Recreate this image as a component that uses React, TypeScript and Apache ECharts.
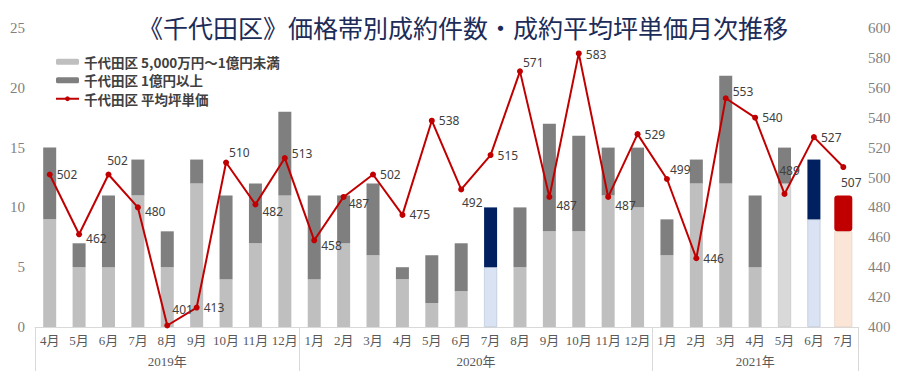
import React, { useEffect, useRef } from 'react';
import * as echarts from 'echarts';

// ---- data ----
const years = ['2019年', '2020年', '2021年'];
const monthsPerYear = [9, 12, 7];
const months = [
  '4月', '5月', '6月', '7月', '8月', '9月', '10月', '11月', '12月',
  '1月', '2月', '3月', '4月', '5月', '6月', '7月', '8月', '9月', '10月', '11月', '12月',
  '1月', '2月', '3月', '4月', '5月', '6月', '7月',
];
const countUnder1Oku = [9, 5, 5, 11, 5, 12, 4, 7, 11, 4, 7, 6, 4, 2, 3, 5, 5, 8, 8, 11, 10, 6, 12, 12, 5, 12, 9, 8];
const countOver1Oku = [6, 2, 6, 3, 3, 2, 7, 5, 7, 7, 4, 6, 1, 4, 4, 5, 5, 9, 8, 4, 5, 3, 2, 9, 6, 3, 5, 3];
const avgTsuboPrice = [502, 462, 502, 480, 401, 413, 510, 482, 513, 458, 487, 502, 475, 538, 492, 515, 571, 487, 583, 487, 529, 499, 446, 553, 540, 489, 527, 507];

const nameUnder = '千代田区 5,000万円～1億円未満';
const nameOver = '千代田区 1億円以上';
const nameAvg = '千代田区 平均坪単価';
const titleText = '《千代田区》価格帯別成約件数・成約平均坪単価月次推移';

// ---- styles ----
const serif = '"Liberation Serif", "Noto Sans CJK JP", serif';
const cjk = '"Noto Sans CJK JP", sans-serif';
const numFont = '"Noto Sans", sans-serif';
const navyIdx = [15, 26];
const paleIdx = [25];
const lastIdx = months.length - 1;
const labelTweaks: Record<number, { position?: string; offset?: number[] }> = {
  1: { offset: [0, 4] },
  2: { position: 'top', offset: [9, -1] },
  3: { offset: [0, 4] },
  4: { offset: [-2, -16] },
  6: { offset: [-4, -10] },
  7: { offset: [0, 7] },
  8: { offset: [0, -5] },
  9: { offset: [0, 5] },
  10: { offset: [-2, 7] },
  14: { position: 'bottom', offset: [11, 0] },
  16: { offset: [-4, -9] },
  17: { offset: [0, 9] },
  18: { offset: [0, 1] },
  19: { offset: [0, 9] },
  21: { offset: [-4, -9] },
  23: { offset: [0, -7] },
  25: { position: 'top', offset: [5, -10] },
  27: { position: 'bottom', offset: [8, 2] },
};

export default function App() {
  const ref = useRef<HTMLDivElement>(null);
  useEffect(() => {
    document.body.style.margin = '0';
    if (!ref.current) return;
    const chart = echarts.init(ref.current, null, { renderer: 'svg' });

    const bounds = [0];
    monthsPerYear.forEach((n) => bounds.push(bounds[bounds.length - 1] + n));
    const centers = years.map((_, i) => (bounds[i] + bounds[i + 1]) / 2);

    const lowerData = countUnder1Oku.map((v, i) => {
      if (i === lastIdx) return null;
      if (navyIdx.includes(i)) return { value: v, itemStyle: { color: '#dae3f3', borderColor: '#b4c0d0', borderWidth: 0.6 } };
      if (paleIdx.includes(i)) return { value: v, itemStyle: { color: '#d9d9d9', borderColor: '#bfbfbf', borderWidth: 0.6 } };
      return v;
    });
    const upperData = countOver1Oku.map((v, i) => {
      if (i === lastIdx) return null;
      if (navyIdx.includes(i)) return { value: v, itemStyle: { color: '#002060' } };
      return v;
    });
    const lastLower = countUnder1Oku.map((v, i) => (i === lastIdx ? v : null));
    const lastUpper = countOver1Oku.map((v, i) => (i === lastIdx ? v : null));
    const lineData = avgTsuboPrice.map((v, i) => {
      const t = labelTweaks[i];
      if (!t) return v;
      return { value: v, label: { position: t.position || 'right', offset: t.offset || [0, 0] } };
    });

    chart.setOption({
      animation: false,
      backgroundColor: '#ffffff',
      title: {
        text: titleText,
        left: 138,
        top: 12,
        padding: 0,
        textStyle: { fontFamily: cjk, fontSize: 25, lineHeight: 30, fontWeight: 'normal', color: '#1c2c58' },
      },
      legend: {
        orient: 'vertical',
        left: 55,
        top: 55,
        padding: 0,
        itemWidth: 23,
        itemHeight: 6,
        itemGap: 5,
        data: [nameUnder, nameOver, nameAvg],
        textStyle: { fontFamily: cjk, fontSize: 13.5, fontWeight: 'bold', color: '#404040' },
      },
      grid: { left: 35, right: 42, top: 28, bottom: 44, containLabel: false, outerBoundsMode: 'none' },
      xAxis: [
        {
          type: 'category',
          position: 'bottom',
          data: months,
          axisLine: { lineStyle: { color: '#d9d9d9' } },
          axisTick: { show: false },
          axisLabel: { interval: 0, color: '#595959', fontFamily: serif, fontSize: 13, margin: 7 },
        },
        {
          type: 'value',
          position: 'bottom',
          min: 0,
          max: bounds[bounds.length - 1],
          axisLine: { show: false },
          splitLine: { show: false },
          axisTick: { show: true, customValues: bounds, length: 44, lineStyle: { color: '#d9d9d9' } },
          axisLabel: {
            customValues: centers,
            margin: 28,
            color: '#595959',
            fontFamily: serif,
            fontSize: 13,
            formatter: (v: number) => {
              const i = centers.findIndex((c) => Math.abs(c - v) < 1e-6);
              return i >= 0 ? years[i] : '';
            },
          },
        },
        { type: 'category', position: 'bottom', data: months, show: false },
      ],
      yAxis: [
        {
          type: 'value',
          min: 0,
          max: 25,
          interval: 5,
          splitLine: { show: false },
          axisLine: { show: false },
          axisTick: { show: false },
          axisLabel: { color: '#7f7f7f', fontFamily: serif, fontSize: 15, margin: 10 },
        },
        {
          type: 'value',
          min: 400,
          max: 600,
          interval: 20,
          splitLine: { show: false },
          axisLine: { show: false },
          axisTick: { show: false },
          axisLabel: { color: '#7f7f7f', fontFamily: serif, fontSize: 15, margin: 10 },
        },
      ],
      series: [
        {
          name: nameUnder,
          type: 'bar',
          stack: 'a',
          barWidth: 13,
          xAxisIndex: 0,
          yAxisIndex: 0,
          itemStyle: { color: '#bfbfbf' },
          data: lowerData,
        },
        {
          name: nameOver,
          type: 'bar',
          stack: 'a',
          barWidth: 13,
          xAxisIndex: 0,
          yAxisIndex: 0,
          itemStyle: { color: '#7f7f7f' },
          data: upperData,
        },
        {
          name: nameUnder,
          type: 'bar',
          stack: 'b',
          barWidth: 18,
          xAxisIndex: 2,
          yAxisIndex: 0,
          itemStyle: { color: '#fbe5d6', borderColor: '#e6cfc0', borderWidth: 0.6 },
          data: lastLower,
        },
        {
          name: nameOver,
          type: 'bar',
          stack: 'b',
          barWidth: 18,
          xAxisIndex: 2,
          yAxisIndex: 0,
          itemStyle: { color: '#c00000', borderRadius: 3 },
          data: lastUpper,
        },
        {
          name: nameAvg,
          type: 'line',
          xAxisIndex: 0,
          yAxisIndex: 1,
          z: 5,
          symbol: 'circle',
          symbolSize: 6,
          lineStyle: { color: '#c00000', width: 2 },
          itemStyle: { color: '#c00000' },
          label: {
            show: true,
            position: 'right',
            distance: 4,
            color: '#404040',
            fontFamily: numFont,
            fontSize: 12,
          },
          data: lineData,
        },
      ],
    });
    return () => chart.dispose();
  }, []);
  return <div ref={ref} style={{ width: 900, height: 371 }} />;
}
